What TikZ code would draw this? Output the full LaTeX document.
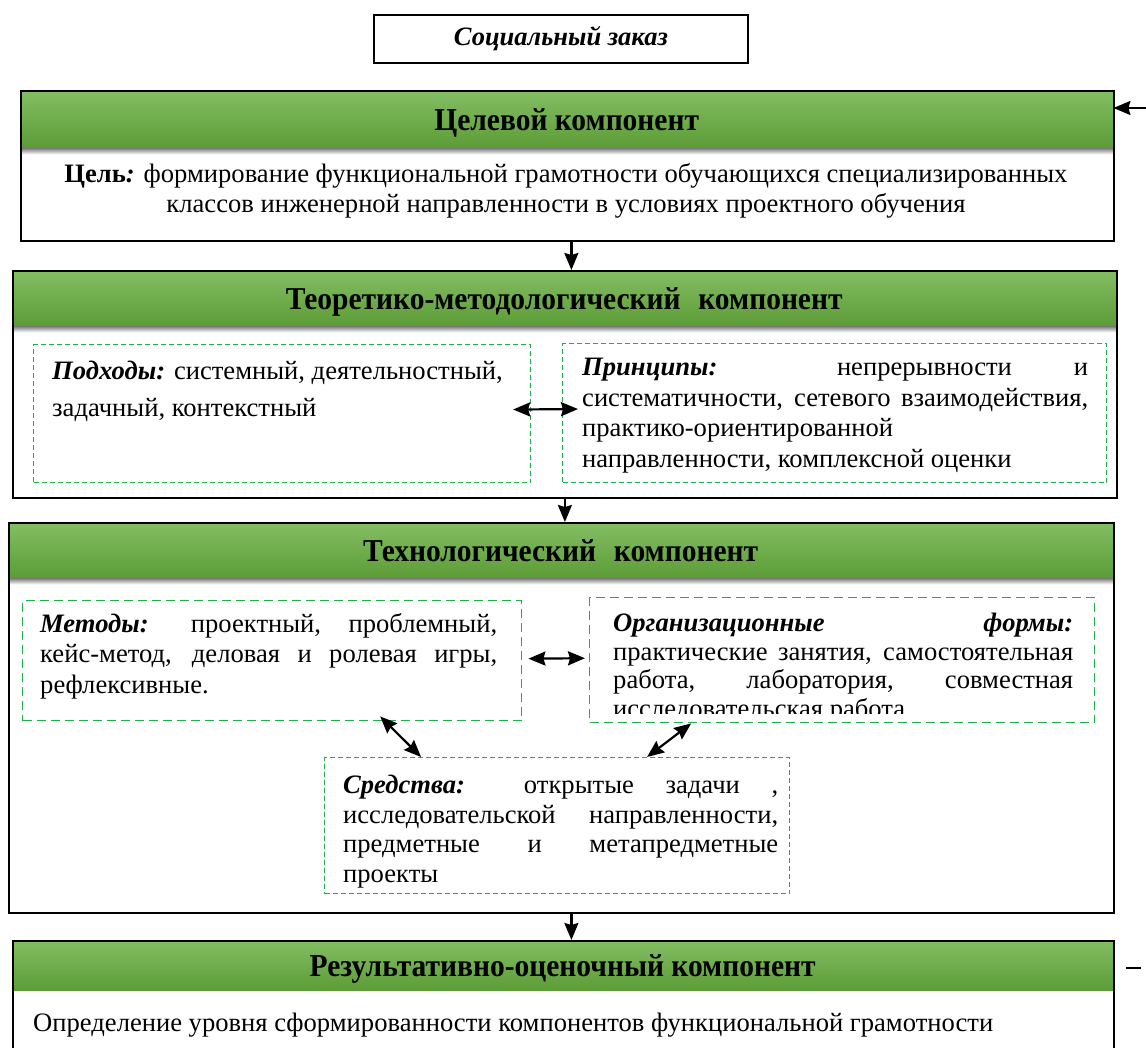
\documentclass[tikz,border=0pt]{standalone}
\usepackage{fontspec}
\usepackage{graphicx}
\setmainfont{Liberation Serif}
\usetikzlibrary{arrows.meta,calc}
\definecolor{gtop}{HTML}{84BE64}
\definecolor{gbot}{HTML}{5C9C36}
\definecolor{dgreen}{HTML}{1DB04A}
\newcommand{\hdrtext}[1]{\scalebox{1}[1.08]{#1}}
\begin{document}
\begin{tikzpicture}[x=1pt,y=-1pt,
  comp/.style={draw=black, line width=1.8pt, anchor=north west, inner sep=0pt},
  hdr/.style={top color=gtop, bottom color=gbot, draw=none, anchor=north west, inner sep=0pt,
    text height=30pt, text depth=8pt,
    font=\bfseries\fontsize{29.5}{32}\selectfont},
  shd/.style={top color=black!50, bottom color=white, draw=none},
  dbox/.style={draw=dgreen, line width=1.1pt, dash pattern=on 5pt off 3pt, anchor=north west, inner sep=0pt},
  dboxb/.style={draw=dgreen, line width=1.4pt, dash pattern=on 9pt off 5pt, anchor=north west, inner sep=0pt},
  txt/.style={anchor=north west, inner sep=0pt, font=\fontsize{26.6}{30.5}\selectfont},
  arr/.style={-{Stealth[length=17pt,width=14pt,inset=2pt]}, line width=2.2pt},
  darr/.style={{Stealth[length=17pt,width=14pt,inset=2pt]}-{Stealth[length=17pt,width=14pt,inset=2pt]}, line width=2.2pt}
]
\useasboundingbox (0,0) rectangle (1146,1048);
\fill[white] (0,0) rectangle (1146,1048);

% Social order
\node[draw=black, line width=1.8pt, minimum width=374pt, minimum height=48pt, anchor=north west,
  font=\bfseries\itshape\fontsize{26.5}{30}\selectfont] (soc) at (373,14) {Социальный заказ};

% Target component
\node[hdr, minimum width=1093pt, minimum height=58pt] (tgth) at (20,90) {\hdrtext{Целевой компонент}};
\shade[shd] ([xshift=1pt]tgth.south west) rectangle ([xshift=-1pt,yshift=-6pt]tgth.south east);
\node[comp, minimum width=1093pt, minimum height=150pt] (tgt) at (20,90) {};
\node[anchor=center, inner sep=0pt, align=center, font=\fontsize{26.6}{30}\selectfont] (tgtb) at (566,191)
  {\textbf{Цель}\textbf{\textit{:}} формирование функциональной грамотности обучающихся специализированных\\
   классов инженерной направленности в условиях проектного обучения};
\coordinate (in1) at (1146,108);
\draw[arr] (in1) -- (in1 -| tgth.east);

% Theoretical-methodological component
\node[hdr, minimum width=1104pt, minimum height=56pt] (teoh) at (12,270) {\hdrtext{Теоретико-методологический\hspace{0.6em}компонент}};
\shade[shd] ([xshift=1pt]teoh.south west) rectangle ([xshift=-1pt,yshift=-6pt]teoh.south east);
\node[comp, minimum width=1104pt, minimum height=227pt] (teo) at (12,270) {};
\node[dbox, minimum width=497pt, minimum height=138pt] (appr) at (33,344) {};
\node[dbox, minimum width=544pt, minimum height=139pt] (prin) at (562,343) {};
\node[txt, align=left, font=\fontsize{26.6}{37}\selectfont] (apprt) at (52,361)
  {\textbf{\textit{Подходы:}} системный, деятельностный,\\ задачный, контекстный};
\node[txt, text width=506pt, align=justify] (print) at (582,358)
  {\textbf{\textit{Принципы:}} непрерывности и\linebreak систематичности, сетевого взаимодействия,\linebreak практико-ориентированной\\ направленности, комплексной оценки};
\draw[darr] ([xshift=-18pt,yshift=4pt]appr.east) -- ([xshift=16pt,yshift=4pt]prin.west);
\draw[arr] ([xshift=4pt]tgt.south) -- ([xshift=4pt]tgt.south |- teo.north);

% Technological component
\node[hdr, minimum width=1105pt, minimum height=56pt] (techh) at (8,522) {\hdrtext{Технологический\hspace{0.6em}компонент}};
\shade[shd] ([xshift=1pt]techh.south west) rectangle ([xshift=-1pt,yshift=-6pt]techh.south east);
\node[comp, minimum width=1105pt, minimum height=390pt] (tech) at (8,522) {};
\draw[arr] (teo.south) -- (teo.south |- tech.north);
\node[dboxb, minimum width=499pt, minimum height=120pt] (meth) at (22,600) {};
\node[dboxb, minimum width=505pt, minimum height=125pt] (org) at (589,597) {};
\node[dbox, minimum width=465pt, minimum height=136pt] (sred) at (324,757) {};
\node[txt, text width=457pt, align=justify] (metht) at (40,613)
  {\textbf{\textit{Методы:}} проектный, проблемный,\linebreak кейс-метод, деловая и ролевая игры,\linebreak рефлексивные.};
\begin{scope}
  \clip (589,597) rectangle (1094,713);
  \node[txt, text width=460pt, align=justify, font=\fontsize{26.6}{28.5}\selectfont] (orgt) at (613,613)
    {\textbf{\textit{Организационные формы:}}\linebreak практические занятия, самостоятельная\linebreak работа, лаборатория, совместная\linebreak исследовательская работа.};
\end{scope}
\node[txt, text width=435pt, align=justify, font=\fontsize{26.6}{29.5}\selectfont] (sredt) at (343,775)
  {\textbf{\textit{Средства:}} открытые задачи ,\linebreak исследовательской направленности,\linebreak предметные и метапредметные\linebreak проекты};
\draw[darr] ([xshift=6pt,yshift=2pt]meth.east) -- ([xshift=-4pt,yshift=2pt]org.west);
\draw[darr] ([xshift=108pt,yshift=5pt]meth.south) -- ([xshift=-136pt]sred.north);
\draw[darr] ([xshift=-151pt]org.south) -- ([xshift=90pt]sred.north);

% Result component
\node[hdr, minimum width=1101pt, minimum height=50pt] (resh) at (12,940) {\hdrtext{Результативно-оценочный компонент}};
\node[comp, line width=2.4pt, minimum width=1101pt, minimum height=140pt] (res) at (12,940) {};
\draw[arr] ([xshift=10pt]tech.south) -- ([xshift=10pt]tech.south |- res.north);
\node[txt] (rest) at (33,1013)
  {Определение уровня сформированности компонентов функциональной грамотности};
\draw[line width=1.6pt] ([xshift=13pt,yshift=-3pt]resh.east) -- ([xshift=28pt,yshift=-3pt]resh.east);
\end{tikzpicture}
\end{document}
